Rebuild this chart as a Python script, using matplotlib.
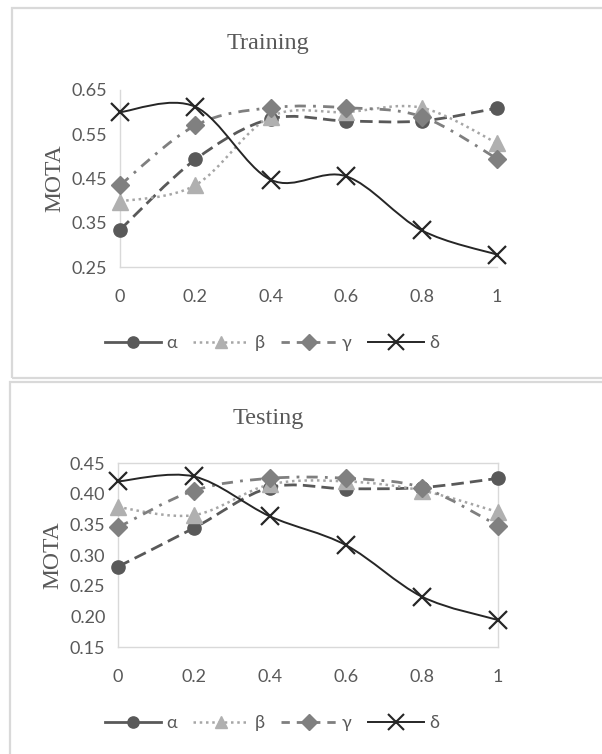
import numpy as np
import matplotlib
matplotlib.use('Agg')
import matplotlib.pyplot as plt
from matplotlib.path import Path
from matplotlib.patches import PathPatch, Rectangle
from matplotlib.lines import Line2D

# data
x_vals = [0, 0.2, 0.4, 0.6, 0.8, 1]
x_labels = ['0', '0.2', '0.4', '0.6', '0.8', '1']
series_names = ['α', 'β', 'γ', 'δ']

train_alpha = [0.334, 0.493, 0.585, 0.580, 0.580, 0.609]
train_beta = [0.398, 0.435, 0.590, 0.600, 0.610, 0.530]
train_gamma = [0.435, 0.570, 0.610, 0.610, 0.590, 0.495]
train_delta = [0.600, 0.612, 0.447, 0.455, 0.333, 0.278]

test_alpha = [0.281, 0.344, 0.410, 0.408, 0.410, 0.425]
test_beta = [0.378, 0.365, 0.415, 0.420, 0.405, 0.370]
test_gamma = [0.345, 0.405, 0.425, 0.425, 0.410, 0.348]
test_delta = [0.420, 0.428, 0.363, 0.316, 0.232, 0.194]

train_yticks = [0.25, 0.35, 0.45, 0.55, 0.65]
test_yticks = [0.15, 0.20, 0.25, 0.30, 0.35, 0.40, 0.45]

# styles (ls = plot line, lls = legend line)
styles = [
    dict(color='#595959', ls=(0, (4.5, 2.2)), lls='-', lw=2.0, marker='o', ms=9.5, mc='#595959'),
    dict(color='#a6a6a6', ls=(0, (1, 1.5)), lls=(0, (1, 1.5)), lw=1.8, marker='^', ms=11, mc='#b0b0b0'),
    dict(color='#7f7f7f', ls=(0, (4, 2.6, 1, 2.6)), lls=(0, (3, 2.5)), lw=2.0, marker='D', ms=9, mc='#808080'),
    dict(color='#262626', ls='-', lls='-', lw=1.4, marker='x', ms=13, mc='#262626'),
]

grey_txt = '#595959'
sans = ['Lato', 'DejaVu Sans']
serif = ['Liberation Serif', 'DejaVu Serif']


def smooth_path(xs, ys):
    # Excel style smoothed line: catmull-rom as cubic bezier
    pts = np.column_stack([xs, ys]).astype(float)
    n = len(pts)
    verts = [pts[0]]
    codes = [Path.MOVETO]
    for i in range(n - 1):
        p0 = pts[i - 1] if i > 0 else pts[i]
        p1 = pts[i]
        p2 = pts[i + 1]
        p3 = pts[i + 2] if i + 2 < n else pts[i + 1]
        c1 = p1 + (p2 - p0) / 6.0
        c2 = p2 - (p3 - p1) / 6.0
        verts += [c1, c2, p2]
        codes += [Path.CURVE4] * 3
    return Path(verts, codes)


def draw_panel(ax, title, data, yticks, ylim, full_box, title_y, legend_y):
    for vals, st in zip(data, styles):
        patch = PathPatch(smooth_path(x_vals, vals), fill=False,
                          edgecolor=st['color'], lw=st['lw'],
                          linestyle=st['ls'], transform=ax.transData,
                          clip_on=False, zorder=2)
        patch.set_capstyle('butt')
        ax.add_patch(patch)
    for vals, st in zip(data, styles):
        if st['marker'] == 'x':
            ax.plot(x_vals, vals, ls='none', marker='x', ms=st['ms'],
                    mew=1.6, color=st['mc'], clip_on=False, zorder=4)
        else:
            ax.plot(x_vals, vals, ls='none', marker=st['marker'], ms=st['ms'],
                    color=st['mc'], mec=st['mc'], clip_on=False, zorder=3)

    ax.set_xlim(0, 1)
    ax.set_ylim(*ylim)
    ax.set_xticks(x_vals)
    ax.set_xticklabels(x_labels)
    ax.set_yticks(yticks)
    ax.set_yticklabels(['%.2f' % v for v in yticks])
    ax.tick_params(length=0, labelsize=13, labelcolor=grey_txt)
    ax.tick_params(axis='y', pad=9)
    ax.tick_params(axis='x', pad=16)
    for lab in ax.get_xticklabels() + ax.get_yticklabels():
        lab.set_family(sans)
    for side in ['left', 'right', 'top', 'bottom']:
        ax.spines[side].set_color('#d9d9d9')
        ax.spines[side].set_linewidth(1.0)
    if not full_box:
        ax.spines['top'].set_visible(False)
        ax.spines['right'].set_visible(False)
    ax.set_ylabel('MOTA', family=serif, fontsize=17, color=grey_txt, labelpad=5)
    fig.text(268 / 602, 1 - title_y / 754, title, family=serif, fontsize=17.5,
             color=grey_txt, ha='center', va='center')

    handles = []
    for st in styles:
        handles.append(Line2D([0], [0], color=st['color'], ls=st['lls'], lw=st['lw'],
                              marker=st['marker'], ms=st['ms'] * 0.85,
                              mfc=st['mc'], mec=st['mc'],
                              mew=1.5 if st['marker'] == 'x' else 1.0))
    fig.legend(handles, series_names, loc='center',
               bbox_to_anchor=(272 / 602, 1 - legend_y / 754), ncol=4,
               frameon=False, handlelength=3.1, handletextpad=0.3,
               columnspacing=0.9, prop={'family': sans, 'size': 13},
               labelcolor=grey_txt)


fig = plt.figure(figsize=(6.02, 7.54), dpi=100)

# panel borders
fig.patches.append(Rectangle((12 / 602, 1 - 378 / 754), 1.0, (378 - 8) / 754,
                             transform=fig.transFigure, fill=False,
                             edgecolor='#d9d9d9', lw=1.6))
fig.patches.append(Rectangle((10 / 602, -0.1), 1.0, 0.1 + 1 - 382 / 754,
                             transform=fig.transFigure, fill=False,
                             edgecolor='#d9d9d9', lw=1.6))

ax1 = fig.add_axes([120 / 602, 1 - 267 / 754, 377 / 602, 177 / 754])
draw_panel(ax1, 'Training', [train_alpha, train_beta, train_gamma, train_delta],
           train_yticks, (0.25, 0.65), False, 43, 343)

ax2 = fig.add_axes([118 / 602, 1 - 647 / 754, 380 / 602, 184 / 754])
draw_panel(ax2, 'Testing', [test_alpha, test_beta, test_gamma, test_delta],
           test_yticks, (0.15, 0.45), True, 418, 723)

fig.savefig('out.png', dpi=100)
